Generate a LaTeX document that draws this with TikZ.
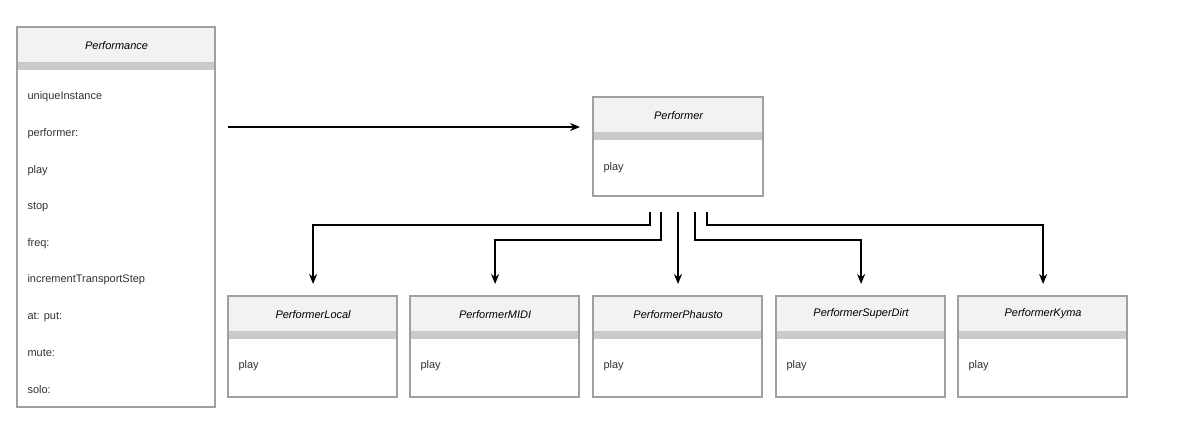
\documentclass[tikz,border=0pt]{standalone}
\usepackage{fontspec}
\setmainfont{Liberation Sans}
\usetikzlibrary{calc,arrows.meta}
\definecolor{hdr}{HTML}{F2F2F2}
\definecolor{band}{HTML}{CACACA}
\definecolor{edge}{HTML}{A0A0A0}
\newcommand{\umlclass}[6]{% name, left, top, right, bottom, label
  \fill[white,draw=edge,line width=1.2pt] (#2,#3) rectangle (#4,#5);
  \node[head,minimum width={#4-#2},anchor=north west] (#1) at (#2,#3) {#6};
  \fill[band] (#2,#3+35) rectangle (#4,#3+43);
  \draw[edge,line width=1.2pt] (#2,#3) rectangle (#4,#5);
}
\begin{document}
\begin{tikzpicture}[x=1pt,y=-1pt, >={Stealth[length=10pt,width=8pt]},
    head/.style={fill=hdr,draw=edge,line width=1.2pt,minimum height=35pt,
      inner sep=0pt,font=\fontsize{11}{13}\selectfont\itshape},
    item/.style={anchor=west,font=\fontsize{11}{13}\selectfont,text=black!80},
    link/.style={->,line width=2pt}]
  \fill[white] (0,0) rectangle (1200,440);
  \useasboundingbox (0,0) rectangle (1200,440);
  % classes
  \umlclass{perf}{17}{27}{215}{407}{Performance}
  \foreach \t [count=\i from 0] in {uniqueInstance,performer:,play,stop,freq:,incrementTransportStep,at: put:,mute:,solo:}
    \node[item] (perf\i) at (24,97+36.6*\i) {\t};
  \umlclass{perfr}{593}{97}{763}{196}{Performer}
  \node[item] (perfrplay) at (600,168) {play};
  \foreach \n/\x in {Local/228,MIDI/410,Phausto/593,SuperDirt/776,Kyma/958} {
    \umlclass{p\n}{\x}{296}{\x+169}{397}{Performer\n}
    \node[item] at (\x+7,366) {play};
  }
  % connectors
  \coordinate (src) at (228,127);
  \coordinate (dst) at (580,127);
  \draw[link] (src) -- (dst);
  \foreach \n/\x/\y in {Local/650/225,MIDI/661/240,Phausto/678/0,SuperDirt/695/240,Kyma/707/225} {
    \coordinate (s\n) at (\x,212);
    \coordinate (e\n) at ($(p\n.north)+(0,-12)$);
    \ifnum\y=0
      \draw[link] (s\n) -- (s\n |- e\n);
    \else
      \draw[link] (s\n) -- (\x,\y) -| (e\n);
    \fi
  }
\end{tikzpicture}
\end{document}
